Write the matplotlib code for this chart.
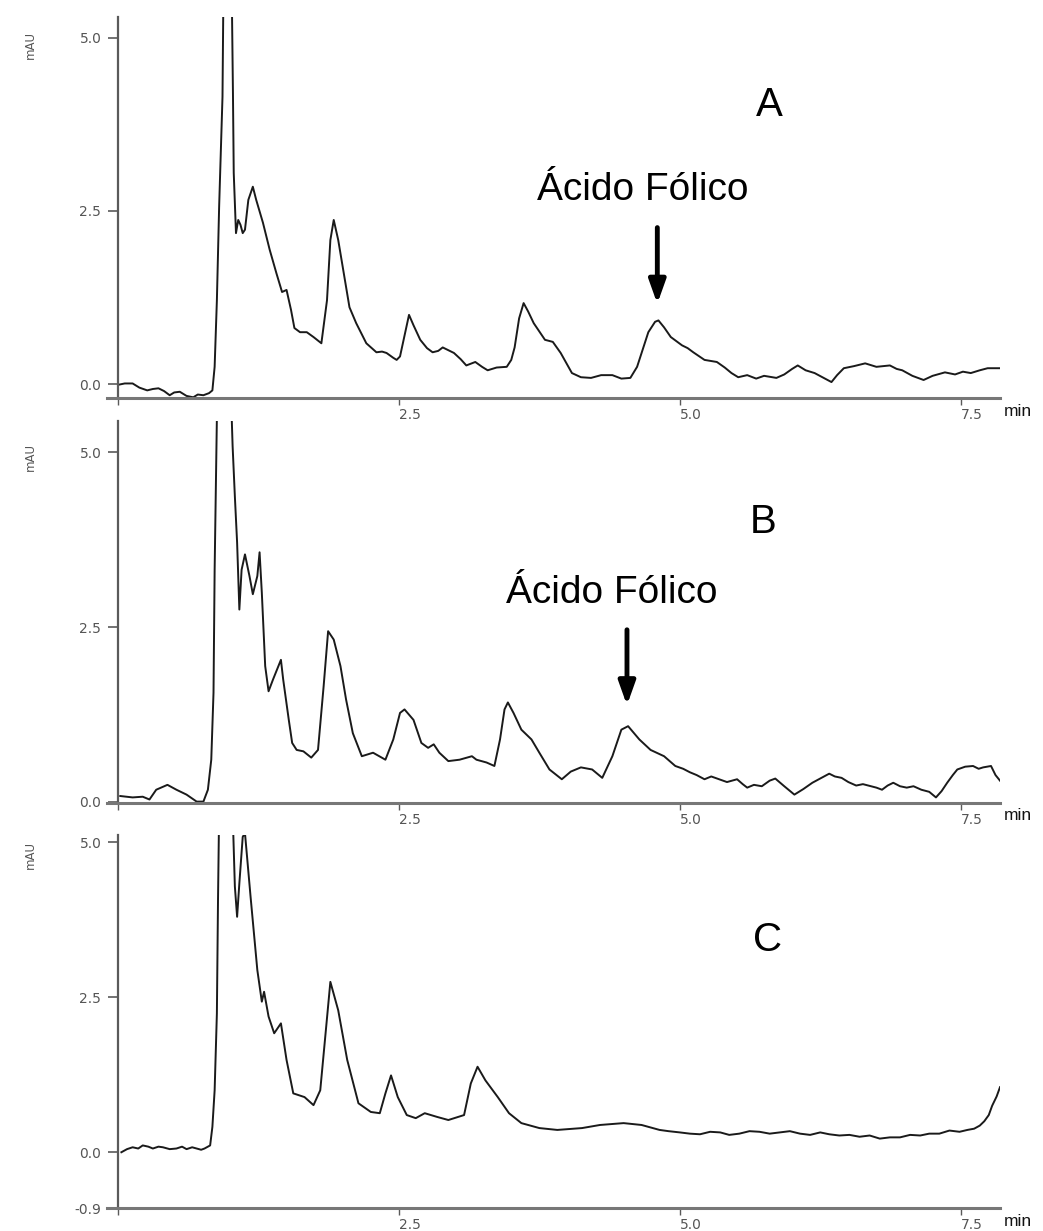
import matplotlib
matplotlib.use("Agg")
import matplotlib.pyplot as plt

# ---------------- data (time in min, absorbance in mAU) ----------------
time_A = [0.00, 0.06, 0.13, 0.19, 0.26, 0.31, 0.36, 0.41, 0.46, 0.50, 0.55, 0.61, 0.67, 0.71,
          0.76, 0.81, 0.84, 0.86, 0.88, 0.90, 0.93, 0.94,
          0.975, 1.01, 1.023, 1.03, 1.05, 1.07, 1.09, 1.11, 1.13, 1.16, 1.20, 1.23, 1.29, 1.35,
          1.41, 1.46, 1.50, 1.54, 1.57, 1.62, 1.68, 1.74, 1.81, 1.86, 1.89, 1.92, 1.96, 2.02,
          2.06, 2.12, 2.21, 2.30, 2.35, 2.39, 2.45, 2.48, 2.51, 2.55, 2.59, 2.63, 2.69, 2.75,
          2.80, 2.85, 2.89, 2.94, 2.99, 3.05, 3.10, 3.18, 3.24, 3.29, 3.37, 3.46, 3.50, 3.53,
          3.57, 3.61, 3.65, 3.70, 3.80, 3.87, 3.94, 4.04, 4.12, 4.21, 4.30, 4.40, 4.48, 4.56,
          4.62, 4.66, 4.72, 4.78, 4.81, 4.86, 4.92, 5.02, 5.07, 5.12, 5.22, 5.33, 5.40, 5.46,
          5.52, 5.60, 5.68, 5.75, 5.86, 5.93, 6.00, 6.05, 6.12, 6.20, 6.27, 6.35, 6.40, 6.46,
          6.55, 6.65, 6.75, 6.87, 6.93, 6.98, 7.07, 7.17, 7.25, 7.36, 7.45, 7.52, 7.59, 7.67,
          7.74, 7.85]
mau_A = [-0.01, 0.01, 0.01, -0.05, -0.09, -0.07, -0.06, -0.10, -0.16, -0.12, -0.11, -0.17, -0.19, -0.15,
         -0.16, -0.13, -0.09, 0.25, 1.21, 2.56, 4.15, 6.0,
         12.0, 6.0, 4.20, 3.05, 2.18, 2.37, 2.30, 2.18, 2.23, 2.66, 2.85, 2.66, 2.33, 1.94,
         1.60, 1.33, 1.36, 1.07, 0.81, 0.75, 0.75, 0.68, 0.59, 1.21, 2.08, 2.37, 2.08, 1.50,
         1.11, 0.88, 0.59, 0.46, 0.47, 0.45, 0.38, 0.35, 0.40, 0.70, 1.00, 0.85, 0.64, 0.52,
         0.46, 0.48, 0.53, 0.49, 0.45, 0.36, 0.27, 0.32, 0.25, 0.20, 0.24, 0.25, 0.35, 0.53,
         0.95, 1.17, 1.05, 0.88, 0.64, 0.61, 0.45, 0.16, 0.10, 0.09, 0.13, 0.13, 0.08, 0.09,
         0.25, 0.45, 0.75, 0.90, 0.92, 0.82, 0.68, 0.56, 0.52, 0.46, 0.35, 0.32, 0.24, 0.16,
         0.10, 0.13, 0.08, 0.12, 0.09, 0.14, 0.22, 0.27, 0.20, 0.16, 0.10, 0.03, 0.13, 0.23,
         0.26, 0.30, 0.25, 0.27, 0.22, 0.20, 0.12, 0.06, 0.12, 0.17, 0.14, 0.18, 0.16, 0.20,
         0.23, 0.23]

time_B = [0.02, 0.13, 0.22, 0.28, 0.34, 0.44, 0.52, 0.61, 0.70, 0.76, 0.80, 0.83, 0.85, 0.86,
          0.88, 0.95, 1.01, 1.02, 1.04, 1.06, 1.08, 1.10, 1.13, 1.17, 1.20, 1.24, 1.26, 1.28,
          1.31, 1.34, 1.38, 1.45, 1.47, 1.52, 1.55, 1.59, 1.65, 1.72, 1.78, 1.83, 1.87, 1.92,
          1.98, 2.03, 2.09, 2.17, 2.27, 2.38, 2.45, 2.51, 2.55, 2.63, 2.70, 2.76, 2.81, 2.86,
          2.94, 3.04, 3.15, 3.19, 3.28, 3.35, 3.40, 3.44, 3.47, 3.52, 3.59, 3.68, 3.75, 3.84,
          3.95, 4.03, 4.12, 4.22, 4.31, 4.40, 4.48, 4.54, 4.64, 4.74, 4.86, 4.96, 5.03, 5.09,
          5.15, 5.22, 5.28, 5.35, 5.42, 5.51, 5.56, 5.60, 5.66, 5.73, 5.80, 5.85, 5.93, 6.02,
          6.10, 6.18, 6.25, 6.33, 6.38, 6.44, 6.50, 6.57, 6.63, 6.70, 6.75, 6.80, 6.85, 6.90,
          6.96, 7.02, 7.08, 7.15, 7.22, 7.28, 7.33, 7.38, 7.43, 7.47, 7.54, 7.61, 7.66, 7.70,
          7.77, 7.81, 7.85]
mau_B = [0.08, 0.06, 0.07, 0.03, 0.17, 0.24, 0.17, 0.10, 0.00, 0.00, 0.17, 0.60, 1.56, 3.32,
         5.50, 12.0, 5.60, 5.09, 4.37, 3.71, 2.75, 3.32, 3.54, 3.23, 2.97, 3.23, 3.57, 2.99,
         1.94, 1.58, 1.75, 2.03, 1.75, 1.17, 0.84, 0.74, 0.72, 0.63, 0.74, 1.65, 2.44, 2.32,
         1.94, 1.46, 0.98, 0.65, 0.70, 0.60, 0.89, 1.27, 1.32, 1.17, 0.84, 0.77, 0.82, 0.70,
         0.58, 0.60, 0.65, 0.60, 0.56, 0.51, 0.89, 1.32, 1.42, 1.27, 1.03, 0.89, 0.70, 0.46,
         0.32, 0.43, 0.49, 0.46, 0.34, 0.65, 1.03, 1.08, 0.89, 0.74, 0.65, 0.51, 0.47, 0.42,
         0.38, 0.32, 0.36, 0.32, 0.28, 0.32, 0.25, 0.20, 0.24, 0.22, 0.30, 0.33, 0.22, 0.10,
         0.18, 0.27, 0.33, 0.40, 0.36, 0.34, 0.28, 0.23, 0.25, 0.22, 0.20, 0.17, 0.23, 0.27,
         0.22, 0.20, 0.22, 0.17, 0.14, 0.06, 0.15, 0.27, 0.38, 0.46, 0.50, 0.51, 0.47, 0.49,
         0.51, 0.38, 0.30]

time_C = [0.03, 0.08, 0.13, 0.18, 0.22, 0.27, 0.31, 0.36, 0.40, 0.46, 0.52, 0.57, 0.61, 0.66,
          0.70, 0.74, 0.77, 0.82, 0.84, 0.86, 0.88, 0.89,
          0.90, 0.96, 1.02, 1.04, 1.06, 1.08, 1.11, 1.13, 1.18, 1.24, 1.28, 1.30, 1.34, 1.39,
          1.45, 1.50, 1.56, 1.66, 1.74, 1.80, 1.85, 1.89, 1.96, 2.04, 2.14, 2.25, 2.33, 2.38,
          2.43, 2.49, 2.57, 2.65, 2.73, 2.84, 2.94, 3.08, 3.14, 3.20, 3.27, 3.38, 3.48, 3.59,
          3.75, 3.91, 4.13, 4.29, 4.50, 4.66, 4.74, 4.82, 4.90, 5.00, 5.09, 5.18, 5.27, 5.36,
          5.44, 5.53, 5.62, 5.71, 5.80, 5.89, 5.98, 6.07, 6.16, 6.25, 6.33, 6.42, 6.51, 6.60,
          6.69, 6.78, 6.87, 6.96, 7.05, 7.14, 7.22, 7.31, 7.40, 7.49, 7.56, 7.62, 7.67, 7.71,
          7.75, 7.78, 7.82, 7.85]
mau_C = [0.00, 0.05, 0.08, 0.06, 0.11, 0.09, 0.06, 0.09, 0.08, 0.05, 0.06, 0.09, 0.05, 0.08,
         0.06, 0.04, 0.06, 0.11, 0.41, 1.00, 2.24, 4.07,
         5.50, 12.0, 5.50, 4.29, 3.80, 4.34, 5.09, 5.15, 4.12, 2.94, 2.43, 2.59, 2.19, 1.92,
         2.08, 1.49, 0.95, 0.89, 0.76, 1.00, 1.97, 2.75, 2.29, 1.49, 0.79, 0.65, 0.63, 0.95,
         1.24, 0.89, 0.60, 0.55, 0.63, 0.57, 0.52, 0.60, 1.11, 1.38, 1.16, 0.89, 0.63, 0.47,
         0.39, 0.36, 0.39, 0.44, 0.47, 0.44, 0.40, 0.36, 0.34, 0.32, 0.30, 0.29, 0.33, 0.32,
         0.28, 0.30, 0.34, 0.33, 0.30, 0.32, 0.34, 0.30, 0.28, 0.32, 0.29, 0.27, 0.28, 0.25,
         0.27, 0.22, 0.24, 0.24, 0.28, 0.27, 0.30, 0.30, 0.35, 0.33, 0.36, 0.38, 0.43, 0.50,
         0.60, 0.75, 0.90, 1.05]

panel_labels = ["A", "B", "C"]
peak_label = "Ácido Fólico"
x_ticks = [0, 2.5, 5.0, 7.5]
x_tick_labels = ["", "2.5", "5.0", "7.5"]
y_ticks_AB = [0.0, 2.5, 5.0]
y_ticks_C = [-0.9, 0.0, 2.5, 5.0]

# ---------------- figure ----------------
W, H = 1043, 1231
fig = plt.figure(figsize=(W / 100, H / 100), dpi=100)
plt.rcParams['font.family'] = ['Liberation Sans', 'DejaVu Sans']

def px_axes(left, top, right, bottom):
    return fig.add_axes([left / W, 1 - bottom / H, (right - left) / W, (bottom - top) / H])

axA = px_axes(107, 17, 1000, 398)
axB = px_axes(107, 421, 1000, 803)
axC = px_axes(107, 835, 1000, 1208)

specs = [
    (axA, time_A, mau_A, (-0.2, 5.3), y_ticks_AB),
    (axB, time_B, mau_B, (-0.02, 5.45), y_ticks_AB),
    (axC, time_C, mau_C, (-0.9, 5.12), y_ticks_C),
]
spine_col = "#5a5a5a"
for ax, t, v, ylim, yt in specs:
    ax.plot(t, v, color="#1a1a1a", lw=1.4, solid_joinstyle="round")
    ax.set_xlim(-0.098, 7.85)
    ax.set_ylim(*ylim)
    for s in ("top", "right"):
        ax.spines[s].set_visible(False)
    ax.spines["left"].set_position(("data", 0))
    ax.spines["left"].set_color(spine_col)
    ax.spines["bottom"].set_color("#777777")
    ax.spines["left"].set_linewidth(1.6)
    ax.spines["bottom"].set_linewidth(2.2)
    ax.set_yticks(yt)
    ax.set_yticklabels([f"{y:.1f}" for y in yt])
    ax.set_xticks(x_ticks)
    ax.set_xticklabels(x_tick_labels)
    ax.tick_params(axis="y", direction="out", length=7, width=1.2, color=spine_col,
                   labelsize=10, labelcolor="#555555", pad=5)
    ax.tick_params(axis="x", direction="out", length=5, width=1.0, color=spine_col,
                   labelsize=10, labelcolor="#555555", pad=2)
    for lab in ax.get_xticklabels() + ax.get_yticklabels():
        lab.set_family("DejaVu Sans")
    for lab in ax.get_xticklabels():
        lab.set_ha("left")
    ax.patch.set_alpha(0)

# y-axis labels "mAU"
for yc in (45, 457, 855):
    fig.text(30 / W, 1 - yc / H, "mAU", rotation=90, ha="center", va="center",
             fontsize=8.5, color="#555555", family="DejaVu Sans")
# "min" labels
for yc in (411, 816, 1222):
    fig.text(1004 / W, 1 - yc / H, "min", ha="left", va="center", fontsize=12.5, color="#111111")

# panel letters
axA.text(5.80, 4.03, panel_labels[0], fontsize=29, ha="center", va="center")
axB.text(5.74, 4.01, panel_labels[1], fontsize=29, ha="center", va="center")
axC.text(5.78, 3.42, panel_labels[2], fontsize=29, ha="center", va="center")

# peak annotations with arrows
axA.text(4.67, 2.80, peak_label, fontsize=28, ha="center", va="center")
axA.annotate("", xy=(4.80, 1.12), xytext=(4.80, 2.30),
             arrowprops=dict(arrowstyle="-|>,head_length=1.4,head_width=0.5", lw=3.5, color="black"))
axB.text(4.39, 2.99, peak_label, fontsize=28, ha="center", va="center")
axB.annotate("", xy=(4.53, 1.34), xytext=(4.53, 2.50),
             arrowprops=dict(arrowstyle="-|>,head_length=1.4,head_width=0.5", lw=3.5, color="black"))

fig.savefig("out.png", dpi=100)
